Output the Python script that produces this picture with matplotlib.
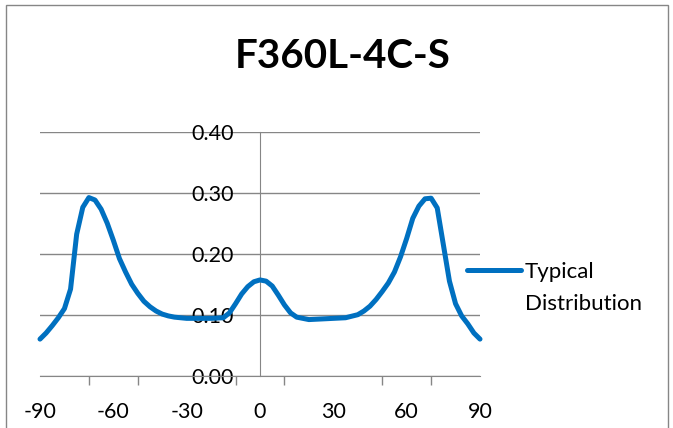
import numpy as np
import matplotlib.pyplot as plt
from matplotlib.patches import Rectangle

# angle (deg) and relative intensity
angle = [-90, -87.5, -85, -82.5, -80, -77.5, -75, -72.5, -70, -67.5, -65, -62.5,
         -60, -57.5, -55, -52.5, -50, -47.5, -45, -42.5, -40, -37.5, -35, -30,
         -25, -20, -15, -12.5, -10, -7.5, -5, -2.5, 0, 2.5, 5, 7.5, 10, 12.5,
         15, 20, 25, 30, 35, 40, 42.5, 45, 47.5, 50, 52.5, 55, 57.5, 60, 62.5,
         65, 67.5, 70, 72.5, 75, 77.5, 80, 82.5, 85, 87.5, 90]
intensity = [0.060, 0.070, 0.082, 0.095, 0.110, 0.142, 0.232, 0.276, 0.292, 0.288, 0.273, 0.250,
             0.222, 0.192, 0.170, 0.150, 0.135, 0.122, 0.113, 0.106, 0.101, 0.098, 0.096, 0.094,
             0.094, 0.094, 0.095, 0.103, 0.118, 0.134, 0.146, 0.154, 0.157, 0.155, 0.147, 0.132, 0.116, 0.103,
             0.096, 0.092, 0.093, 0.094, 0.095, 0.100, 0.106, 0.114, 0.125, 0.138, 0.152, 0.170, 0.195, 0.225, 0.258,
             0.278, 0.290, 0.291, 0.275, 0.215, 0.155, 0.118, 0.098, 0.085, 0.070, 0.060]
x_labels = [-90, -60, -30, 0, 30, 60, 90]
x_marks = [-90, -70, -50, -30, -10, 10, 30, 50, 70, 90]
y_ticks = [0.0, 0.1, 0.2, 0.3, 0.4]

plt.rcParams['font.family'] = ['Lato', 'DejaVu Sans']
grey = '#868686'

fig = plt.figure(figsize=(6.73, 4.28), dpi=100)
ax = fig.add_axes([40 / 673, 52.3 / 428, 440 / 673, 244 / 428])

ax.plot(angle, intensity, color='#0070C0', lw=3.6, solid_capstyle='round',
        solid_joinstyle='round', clip_on=False, label='Typical', zorder=3)

ax.set_xlim(-90, 90)
ax.set_ylim(0, 0.4)

for s in ['top', 'right']:
    ax.spines[s].set_visible(False)
ax.spines['left'].set_position(('data', 0))
ax.spines['left'].set_color(grey)
ax.spines['bottom'].set_color(grey)

ax.set_yticks(y_ticks)
ax.set_yticklabels(['%.2f' % v for v in y_ticks])
ax.tick_params(axis='y', length=0, pad=19, labelsize=15.5)
ax.yaxis.grid(True, color=grey, lw=1)
ax.set_axisbelow(True)

ax.set_xticks(x_labels)
ax.set_xticklabels([str(v) for v in x_labels])
ax.set_xticks(x_marks, minor=True)
ax.tick_params(axis='x', which='major', length=0, pad=19, labelsize=15.5)
ax.tick_params(axis='x', which='minor', length=6.5, color=grey, width=1)

fig.text(342.5 / 673, 1 - 57 / 428, 'F360L-4C-S', ha='center', va='center',
         fontsize=29, fontweight='bold')

leg = ax.legend(loc='center left', bbox_to_anchor=(467 / 673, 1 - 272 / 428),
                bbox_transform=fig.transFigure, frameon=False, fontsize=16,
                handlelength=2.45, handletextpad=0.14, borderaxespad=0, borderpad=0)

# second line of the legend label, placed under the first one
fig.canvas.draw()
bb = leg.get_texts()[0].get_window_extent()
fig.text(bb.x0 / 673, (bb.y0 - 32) / 428, 'Distribution', fontsize=16, ha='left', va='bottom')

fig.patches.append(Rectangle((6 / 673, -0.1), 662 / 673, 1.1 - 5.5 / 428,
                             transform=fig.transFigure, fill=False, edgecolor=grey, lw=1))

fig.savefig('out.png', dpi=100)
